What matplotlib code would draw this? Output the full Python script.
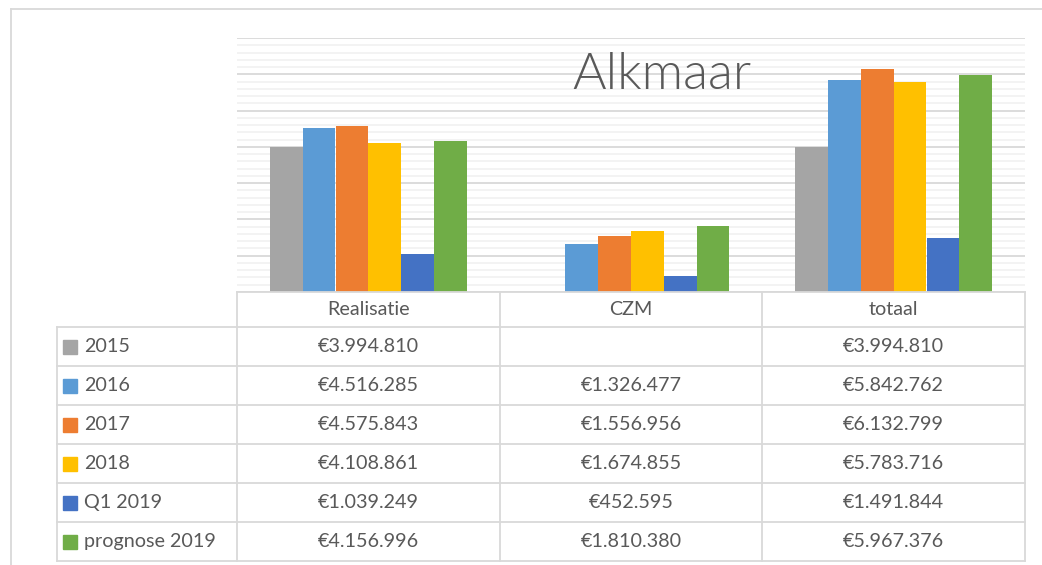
import matplotlib
matplotlib.use("Agg")
import matplotlib.pyplot as plt
import numpy as np
from matplotlib.lines import Line2D
from matplotlib.patches import Rectangle

plt.rcParams['font.family'] = ['Lato', 'DejaVu Sans']

# data
categories = ["Realisatie", "CZM", "totaal"]
series = ["2015", "2016", "2017", "2018", "Q1 2019", "prognose 2019"]
colors = ["#A5A5A5", "#5B9BD5", "#ED7D31", "#FFC000", "#4472C4", "#70AD47"]
realisatie = [3994810, 4516285, 4575843, 4108861, 1039249, 4156996]
czm = [np.nan, 1326477, 1556956, 1674855, 452595, 1810380]
totaal = [3994810, 5842762, 6132799, 5783716, 1491844, 5967376]
values = np.array([realisatie, czm, totaal])  # rows: category, cols: series

W, H = 1042, 565
txt_col = "#595959"
grid_major = "#D9D9D9"
grid_minor = "#F2F2F2"
fs = 14.2

fig = plt.figure(figsize=(W / 100, H / 100), dpi=100)

# plot area in pixels
px_left, px_right, px_top, px_bottom = 237, 1025, 38, 292
ax = fig.add_axes([px_left / W, 1 - px_bottom / H,
                   (px_right - px_left) / W, (px_bottom - px_top) / H])

x = np.arange(len(categories))
n = len(series)
group = 0.75
bw = group / n
for i, name in enumerate(series):
    ax.bar(x - group / 2 + bw * (i + 0.5), values[:, i], width=bw,
           color=colors[i], zorder=3, label=name)

ax.set_xlim(-0.5, len(categories) - 0.5)
ax.set_ylim(0, 7e6)
ax.set_yticks(np.arange(0, 7e6 + 1, 1e6))
ax.set_yticks(np.arange(0, 7e6 + 1, 2e5), minor=True)
ax.grid(which="minor", axis="y", color=grid_minor, linewidth=1.3, zorder=0)
ax.grid(which="major", axis="y", color=grid_major, linewidth=1.3, zorder=1)
ax.tick_params(which="both", left=False, bottom=False,
               labelleft=False, labelbottom=False)
for s in ax.spines.values():
    s.set_visible(False)

# title overlay
fig.text(662 / W, 1 - 75 / H, "Alkmaar", fontsize=37, color=txt_col,
         ha="center", va="center", fontweight=300)

# data table drawn in pixel space
tab = fig.add_axes([0, 0, 1, 1], zorder=5)
tab.set_xlim(0, W)
tab.set_ylim(H, 0)
tab.axis("off")
tab.patch.set_alpha(0)

col_w = (px_right - px_left) / len(categories)
col_x = [px_left + col_w * k for k in range(len(categories) + 1)]
leg_left = 57
head_top = px_bottom
head_h = 35
row_h = 39
row_y = [head_top + head_h + row_h * k for k in range(n + 1)]
lc = grid_major
lw = 1.3

# header
tab.add_line(Line2D([px_left, px_right], [head_top, head_top], color=lc, lw=lw))
for cx in col_x:
    tab.add_line(Line2D([cx, cx], [head_top, row_y[-1]], color=lc, lw=lw))
for k, c in enumerate(categories):
    tab.text(col_x[k] + col_w / 2, head_top + head_h / 2, c, ha="center",
             va="center", fontsize=fs, color=txt_col)
# rows
for ry in row_y:
    tab.add_line(Line2D([leg_left, px_right], [ry, ry], color=lc, lw=lw))
tab.add_line(Line2D([leg_left, leg_left], [row_y[0], row_y[-1]], color=lc, lw=lw))


def fmt(v):
    if np.isnan(v):
        return ""
    return "€" + f"{v:,.0f}".replace(",", ".")


for i, name in enumerate(series):
    cy = row_y[i] + row_h / 2
    tab.add_patch(Rectangle((63, cy - 7), 14, 14, color=colors[i]))
    tab.text(84, cy, name, ha="left", va="center", fontsize=fs, color=txt_col)
    for k in range(len(categories)):
        tab.text(col_x[k] + col_w / 2, cy, fmt(values[k, i]), ha="center",
                 va="center", fontsize=fs, color=txt_col)

# outer chart frame
tab.add_line(Line2D([11, W], [9, 9], color=lc, lw=1.3))
tab.add_line(Line2D([11, 11], [9, H], color=lc, lw=1.3))

fig.savefig("out.png", dpi=100)
